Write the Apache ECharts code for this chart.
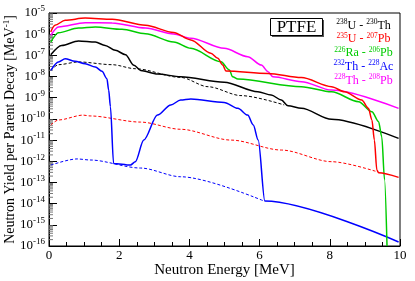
<!DOCTYPE html>
<html>
<head>
<meta charset="utf-8">
<script src="https://cdn.jsdelivr.net/npm/echarts@6/dist/echarts.min.js"></script>
<style>html,body{margin:0;padding:0;background:#fff;}#c{width:415px;height:281px;}</style>
</head>
<body>
<div id="c"></div>
<script>
// ---- data: [neutron energy MeV, yield per parent decay MeV^-1] ----
var u238Th230 = [[0.05,1.07e-7],[0.36,2.95e-7],[0.84,4.79e-7],[1.32,4.27e-7],[1.60,2.95e-7],[1.89,1.74e-7],[2.18,1.07e-7],[2.42,3.39e-8],[2.61,1.95e-8],[3.09,1.32e-8],[3.75,9.77e-9],[4.99,5.37e-9],[5.95,1.91e-9],[6.33,1.35e-9],[6.62,7.76e-10],[6.81,4.17e-10],[7.19,3.16e-10],[8.05,9.55e-11],[9.96,1.20e-11]];
var u238Th230Dashed = [[0.05,1.95e-8],[0.27,3.63e-8],[0.84,4.90e-8],[1.80,3.63e-8],[2.46,2.34e-8],[3.75,9.12e-9],[4.53,3.31e-9],[5.47,1.26e-9],[6.70,4.57e-10]];
var u235Pb207 = [[0.05,1.26e-6],[0.17,2.63e-6],[0.46,4.57e-6],[1.03,5.75e-6],[1.80,5.01e-6],[2.75,2.63e-6],[3.55,1.20e-6],[4.04,5.37e-7],[4.61,1.26e-7],[4.81,7.24e-8],[4.95,3.47e-8],[5.04,1.82e-8],[6.24,1.41e-8],[7.19,8.91e-9],[8.05,3.31e-9],[8.42,1.91e-9],[8.91,7.76e-10],[9.10,3.16e-10],[9.20,8.91e-11],[9.27,1.0e-11],[9.34,3.89e-13],[9.39,2.88e-13],[9.96,1.74e-13]];
var u235Pb207Dashed = [[0.05,5.13e-11],[0.27,8.91e-11],[0.97,1.51e-10],[1.17,1.38e-10],[2.61,7.08e-11],[3.75,3.24e-11],[5.19,1.0e-11],[6.62,3.39e-12],[8.05,9.55e-13],[9.34,3.24e-13]];
var ra226Pb206 = [[0.05,4.27e-7],[0.27,1.17e-6],[0.84,1.95e-6],[1.32,2.19e-6],[2.08,1.70e-6],[2.75,1.05e-6],[3.55,4.27e-7],[4.04,2.14e-7],[4.90,5.01e-8],[5.14,2.04e-8],[5.23,9.77e-9],[5.38,7.59e-9],[7.19,3.31e-9],[8.05,1.91e-9],[8.82,6.46e-10],[9.20,2.19e-10],[9.39,7.41e-11],[9.48,1.45e-11],[9.56,1.32e-13],[9.63,1.0e-16]];
var th232Ac228 = [[0.05,1.95e-8],[0.27,4.90e-8],[0.46,6.92e-8],[0.74,5.25e-8],[1.03,4.07e-8],[1.32,2.82e-8],[1.51,1.78e-8],[1.65,7.94e-9],[1.70,2.29e-9],[1.75,3.80e-10],[1.84,7.94e-13],[2.32,6.61e-13],[2.46,9.55e-13],[2.70,1.0e-11],[3.09,1.51e-10],[3.47,4.57e-10],[3.75,7.76e-10],[4.04,8.71e-10],[4.99,6.03e-10],[5.38,3.16e-10],[5.66,1.51e-10],[5.82,5.13e-11],[5.96,1.0e-11],[6.15,1.32e-14],[9.96,1.55e-16]];
var th232Ac228Dashed = [[0.05,6.61e-13],[0.80,1.29e-12],[1.17,1.15e-12],[2.61,4.79e-13],[3.75,1.86e-13],[6.13,1.32e-14]];
var th228Pb208 = [[0.05,8.91e-7],[0.27,2.19e-6],[1.03,3.47e-6],[1.80,3.39e-6],[2.75,1.95e-6],[3.55,1.02e-6],[4.04,6.46e-7],[4.99,2.14e-7],[5.66,8.71e-8],[6.05,3.47e-8],[6.24,1.70e-8],[6.38,9.77e-9],[7.19,5.75e-9],[8.05,2.29e-9],[9.96,3.16e-10]];

var xTicks = [0, 2, 4, 6, 8, 10];
var yDecades = [-16,-15,-14,-13,-12,-11,-10,-9,-8,-7,-6,-5];
var legendEntries = [
  {a:'238', b:'U - ', c:'230', d:'Th', color:'#000000'},
  {a:'235', b:'U - ', c:'207', d:'Pb', color:'#ff0000'},
  {a:'226', b:'Ra - ', c:'206', d:'Pb', color:'#00cc00'},
  {a:'232', b:'Th - ', c:'228', d:'Ac', color:'#0000ff'},
  {a:'228', b:'Th - ', c:'208', d:'Pb', color:'#ff00ff'}
];

// minor tick positions on the log axis (2..9 x 10^n)
var minorTickVals = [];
for (var i = 0; i < yDecades.length - 1; i++) {
  for (var k = 2; k <= 9; k++) minorTickVals.push([0, k * Math.pow(10, yDecades[i])]);
}

var SERIF = '"Liberation Serif", "DejaVu Serif", serif';
var chart = echarts.init(document.getElementById('c'), null, {renderer: 'canvas'});

function lineSeries(name, data, color, dashed, width) {
  return {
    name: name, type: 'line', data: data, showSymbol: false, symbol: 'none',
    smooth: 0.3, smoothMonotone: 'x', clip: true, silent: true, animation: false,
    lineStyle: {color: color, width: width, type: dashed ? [3, 2] : 'solid'}
  };
}

var legendGraphics = [];
legendEntries.forEach(function (e, i) {
  legendGraphics.push({
    type: 'text', x: 363.5, y: 25.5 + i * 13.8,
    style: {
      text: '{s|' + e.a + '}{m|' + e.b + '}{s|' + e.c + '}{m|' + e.d + '}',
      align: 'center', verticalAlign: 'middle', fill: e.color,
      rich: {
        s: {fontFamily: SERIF, fontSize: 7.5, fill: e.color, padding: [0, 0, 7, 0]},
        m: {fontFamily: SERIF, fontSize: 12, fill: e.color}
      }
    }
  });
});

var option = {
  animation: false,
  backgroundColor: '#ffffff',
  grid: {left: 49, right: 15, top: 13, bottom: 35, show: true, borderColor: '#000', borderWidth: 1, backgroundColor: 'transparent', containLabel: false, outerBoundsMode: 'none'},
  xAxis: {
    type: 'value', min: xTicks[0], max: xTicks[xTicks.length - 1], interval: 2,
    name: 'Neutron Energy [MeV]', nameLocation: 'middle', nameGap: 17, nameMoveOverlap: false,
    nameTextStyle: {fontFamily: SERIF, fontSize: 15, color: '#000'},
    axisLine: {show: true, lineStyle: {color: '#000', width: 1}},
    axisTick: {show: true, inside: true, length: 7, lineStyle: {color: '#000'}},
    minorTick: {show: true, splitNumber: 4, length: 4, lineStyle: {color: '#000'}},
    splitLine: {show: false},
    axisLabel: {fontFamily: SERIF, fontSize: 13, color: '#000', margin: 3,
      formatter: function (v) { return xTicks.indexOf(v) >= 0 ? String(v) : ''; }}
  },
  yAxis: {
    type: 'log', logBase: 10, min: 1e-16, max: 1e-5, splitNumber: 11, interval: 1,
    name: '{m|Neutron Yield per Parent Decay [MeV}{s|-1}{m|]}', nameLocation: 'middle', nameGap: 30, nameRotate: 90, nameMoveOverlap: false,
    nameTextStyle: {fontFamily: SERIF, fontSize: 14, color: '#000',
      rich: {m: {fontFamily: SERIF, fontSize: 14, color: '#000'}, s: {fontFamily: SERIF, fontSize: 9, color: '#000', padding: [0, 0, 8, 0]}}},
    axisLine: {show: true, lineStyle: {color: '#000', width: 1}},
    axisTick: {show: true, inside: true, length: 8, lineStyle: {color: '#000'}},
    minorTick: {show: false},
    splitLine: {show: false},
    axisLabel: {
      margin: 4, color: '#000', showMinLabel: true, showMaxLabel: true, hideOverlap: false, interval: 0,
      formatter: function (v) { var e = Math.round(Math.log10(v)); return '{b|10}{s|' + e + '}'; },
      rich: {
        b: {fontFamily: SERIF, fontSize: 13, color: '#000'},
        s: {fontFamily: SERIF, fontSize: 9, color: '#000', padding: [0, 0, 8, 0]}
      }
    }
  },
  series: [
    {
      type: 'custom', silent: true, data: minorTickVals, z: 1,
      renderItem: function (params, api) {
        var p = api.coord([0, api.value(1)]);
        return {type: 'line', shape: {x1: p[0], y1: p[1], x2: p[0] + 4, y2: p[1]}, style: {stroke: '#777', lineWidth: 1}};
      }
    },
    lineSeries('238U - 230Th (dashed)', u238Th230Dashed, '#000000', true, 1),
    lineSeries('235U - 207Pb (dashed)', u235Pb207Dashed, '#ff0000', true, 1),
    lineSeries('232Th - 228Ac (dashed)', th232Ac228Dashed, '#0000ff', true, 1),
    lineSeries('238U - 230Th', u238Th230, '#000000', false, 1.5),
    lineSeries('232Th - 228Ac', th232Ac228, '#0000ff', false, 1.5),
    lineSeries('226Ra - 206Pb', ra226Pb206, '#00cc00', false, 1.5),
    lineSeries('228Th - 208Pb', th228Pb208, '#ff00ff', false, 1.5),
    lineSeries('235U - 207Pb', u235Pb207, '#ff0000', false, 1.5)
  ],
  graphic: [
    {type: 'rect', shape: {x: 272, y: 20, width: 52, height: 17}, style: {fill: '#555', stroke: null}, z: 10},
    {type: 'rect', shape: {x: 270.5, y: 18.5, width: 52, height: 17}, style: {fill: '#fff', stroke: '#000', lineWidth: 1}, z: 11},
    {type: 'text', x: 296.5, y: 27.5, z: 12, style: {text: 'PTFE', font: '17px ' + SERIF, fill: '#000', align: 'center', verticalAlign: 'middle'}}
  ].concat(legendGraphics)
};
chart.setOption(option);
</script>
</body>
</html>
